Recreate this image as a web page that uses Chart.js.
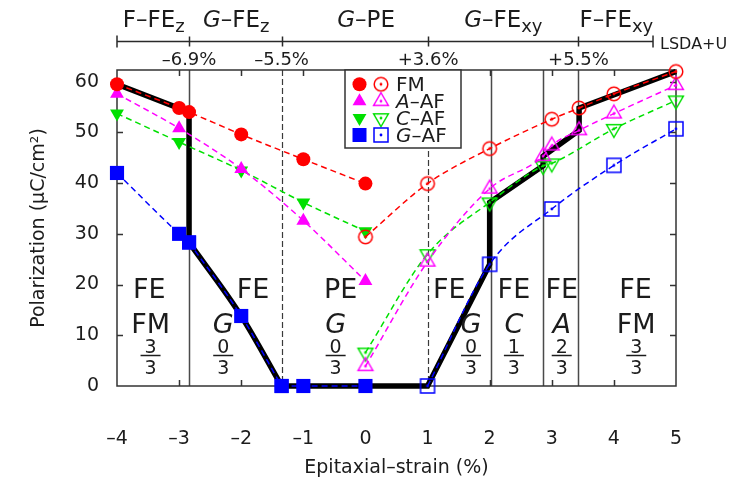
<!DOCTYPE html>
<html>
<head>
<meta charset="utf-8">
<script src="https://cdn.jsdelivr.net/npm/chart.js@4/dist/chart.umd.min.js"></script>
<style>
  html, body { margin: 0; padding: 0; background: #fff; }
  canvas { display: block; }
</style>
</head>
<body>
<canvas id="chart" width="732" height="485"></canvas>
<script>
// Polarization (µC/cm²) against epitaxial strain (%) for each magnetic order.
// Filled symbols: out-of-plane (z) polar states; open symbols: in-plane (xy).
const fmZStrain = [-4, -3, -2.84, -2, -1, 0];
const fmZPol    = [59.5, 54.8, 54.0, 49.6, 44.7, 39.9];
const aafZStrain = [-4, -3, -2, -1, 0];
const aafZPol    = [57.6, 50.8, 42.8, 32.6, 20.7];
const cafZStrain = [-4, -3, -2, -1, 0];
const cafZPol    = [53.7, 48.1, 42.5, 36.2, 30.5];
const gafZStrain = [-4, -3, -2.84];
const gafZPol    = [42.0, 30.0, 28.3];
const gafBendStrain = [-2.84, -2, -1.35];
const gafBendPol    = [28.3, 13.8, 0];
const gafFlatStrain = [-1.35, -1, 0];
const gafFlatPol    = [0, 0, 0];

const fmXyStrain = [0, 1, 2, 3, 3.44, 4, 5];
const fmXyPol    = [29.4, 39.9, 46.8, 52.6, 54.8, 57.6, 62.0];
const aafXyStrain = [0, 1, 2, 2.86, 3, 3.44, 4, 5];
const aafXyPol    = [3.9, 24.5, 38.9, 45.3, 47.4, 50.4, 53.7, 59.3];
const cafXyStrain = [0, 1, 2, 2.86, 3, 4, 5];
const cafXyPol    = [6.6, 26.0, 36.2, 43.4, 43.9, 50.7, 56.3];
const gafXyStrain = [1, 2, 3, 4, 5];
const gafXyPol    = [0, 24.0, 34.9, 43.5, 50.7];

// Ground-state path (thick black)
const groundUpperStrain = [-4, -2.84, -2.84];
const groundUpperPol    = [59.5, 54.0, 28.3];
const groundLowerStrain = [-1.35, 1, 2, 2, 2.86, 2.86, 3.44, 3.44, 5];
const groundLowerPol    = [0, 0, 24.0, 36.2, 43.4, 45.3, 50.4, 54.8, 62.0];

// Phase boundaries
const boundaryStrain = [-2.84, -1.35, 1.01, 2.02, 2.86, 3.43];
const boundaryDashed = [false, true, true, false, false, false];

// LSDA+U scale across the top
const lsdaTickStrain = [-2.84, -1.35, 1.01, 3.43];
const lsdaTickLabels = ['–6.9%', '–5.5%', '+3.6%', '+5.5%'];
const lsdaBarStart = -4;
const lsdaBarEnd = 4.63;
const lsdaPhaseNames = [
  [['F–FE'], ['z', 's']],
  [['G', 'i'], ['–FE'], ['z', 's']],
  [['G', 'i'], ['–PE']],
  [['G', 'i'], ['–FE'], ['xy', 's']],
  [['F–FE'], ['xy', 's']]
];
const lsdaPhaseCenter = [-3.41, -2.08, 0.01, 2.22, 4.04];

// Phase labels inside the plot
const phaseHead    = ['FE', 'FE', 'PE', 'FE', 'FE', 'FE', 'FE'];
const phaseOrder   = ['FM', 'G', 'G', 'G', 'C', 'A', 'FM'];
const phaseNum     = ['3', '0', '0', '0', '1', '2', '3'];
const phaseDen     = ['3', '3', '3', '3', '3', '3', '3'];
const phaseHeadAt  = [-3.48, -1.81, -0.40, 1.35, 2.39, 3.16, 4.35];
const phaseOrderAt = [-3.46, -2.29, -0.48, 1.70, 2.39, 3.16, 4.36];

const xTickValues = [-4, -3, -2, -1, 0, 1, 2, 3, 4, 5];
const yTickValues = [0, 10, 20, 30, 40, 50, 60];

const RED = '#ff0000', MAG = '#ff00ff', GRN = '#00e000', BLU = '#0000ff';
const INK = '#1c1c1c', FRAME = '#333333';
const FAM = '"DejaVu Sans"';

function pts(xs, ys) { return xs.map((x, i) => ({ x: x, y: ys[i] })); }

function fontStr(size, italic) { return (italic ? 'oblique ' : '') + size + 'px ' + FAM; }

// open symbol with a centre dot
function openMarker(shape, color) {
  const s = 24, m = s / 2;
  const c = document.createElement('canvas');
  c.width = s; c.height = s;
  const g = c.getContext('2d');
  g.strokeStyle = color; g.lineWidth = 1.5;
  g.beginPath();
  if (shape === 'circle') {
    g.arc(m, m, 6.8, 0, Math.PI * 2);
  } else if (shape === 'rect') {
    g.rect(m - 7, m - 7, 14, 14);
  } else {
    const r = 8.5, d = shape === 'up' ? -1 : 1;
    g.moveTo(m, m + d * r);
    g.lineTo(m + r * 0.866, m - d * r / 2);
    g.lineTo(m - r * 0.866, m - d * r / 2);
    g.closePath();
  }
  g.stroke();
  g.fillStyle = color;
  g.beginPath(); g.arc(m, m, 1.4, 0, Math.PI * 2); g.fill();
  return c;
}

const openFM = openMarker('circle', RED);
const openA = openMarker('up', MAG);
const openC = openMarker('down', GRN);
const openG = openMarker('rect', BLU);

function dashedSet(data, color, point) {
  return Object.assign({
    data: data,
    borderColor: color,
    borderWidth: 1.5,
    borderDash: [6, 4],
    cubicInterpolationMode: 'monotone',
    pointBackgroundColor: color,
    pointBorderColor: color,
    pointBorderWidth: 0,
    fill: false,
    clip: false
  }, point);
}

function groundSet(data, curved) {
  return {
    data: data,
    borderColor: '#000',
    borderWidth: 5.5,
    pointRadius: 0,
    tension: 0,
    cubicInterpolationMode: curved ? 'monotone' : 'default',
    fill: false,
    clip: false
  };
}

const datasets = [
  dashedSet(pts(fmZStrain, fmZPol), RED, { pointStyle: 'circle', pointRadius: 7 }),
  dashedSet(pts(fmXyStrain, fmXyPol), RED, { pointStyle: openFM, pointRadius: 8 }),
  dashedSet(pts(aafZStrain, aafZPol), MAG, { pointStyle: 'triangle', pointRadius: 8 }),
  dashedSet(pts(aafXyStrain, aafXyPol), MAG, { pointStyle: openA, pointRadius: 8 }),
  dashedSet(pts(cafZStrain, cafZPol), GRN, { pointStyle: 'triangle', pointRotation: 180, pointRadius: 8 }),
  dashedSet(pts(cafXyStrain, cafXyPol), GRN, { pointStyle: openC, pointRadius: 8 }),
  dashedSet(pts(gafZStrain, gafZPol), BLU, { pointStyle: 'rect', pointRadius: 10 }),
  dashedSet(pts(gafBendStrain, gafBendPol), BLU, { pointStyle: 'rect', pointRadius: 10 }),
  dashedSet(pts(gafFlatStrain, gafFlatPol), BLU, { pointStyle: 'rect', pointRadius: 10 }),
  dashedSet(pts(gafXyStrain, gafXyPol), BLU, { pointStyle: openG, pointRadius: 8 }),
  groundSet(pts(groundUpperStrain, groundUpperPol), false),
  groundSet(pts(gafBendStrain, gafBendPol), true),
  groundSet(pts(groundLowerStrain, groundLowerPol), false)
];

function drawParts(ctx, parts, x, baseline, size, align) {
  const sub = Math.round(size * 0.78);
  const fontOf = p => fontStr((p[1] || '').includes('s') ? sub : size, (p[1] || '').includes('i'));
  let w = 0;
  parts.forEach(p => { ctx.font = fontOf(p); w += ctx.measureText(p[0]).width; });
  let cx = align === 'center' ? x - w / 2 : x;
  ctx.textAlign = 'left';
  ctx.textBaseline = 'alphabetic';
  parts.forEach(p => {
    ctx.font = fontOf(p);
    const dy = (p[1] || '').includes('s') ? size * 0.22 : 0;
    ctx.fillText(p[0], cx, baseline + dy);
    cx += ctx.measureText(p[0]).width;
  });
}

function filledMarker(ctx, shape, x, y, color) {
  ctx.save();
  ctx.fillStyle = color;
  ctx.beginPath();
  if (shape === 'circle') {
    ctx.arc(x, y, 7, 0, Math.PI * 2);
  } else if (shape === 'rect') {
    ctx.rect(x - 7, y - 7, 14, 14);
  } else {
    const r = 8, d = shape === 'up' ? -1 : 1;
    ctx.moveTo(x, y + d * r);
    ctx.lineTo(x + r * 0.866, y - d * r / 2);
    ctx.lineTo(x - r * 0.866, y - d * r / 2);
    ctx.closePath();
  }
  ctx.fill();
  ctx.restore();
}

const legendRows = [
  { shape: 'circle', color: RED, open: openFM, parts: [['FM']] },
  { shape: 'up', color: MAG, open: openA, parts: [['A', 'i'], ['–AF']] },
  { shape: 'down', color: GRN, open: openC, parts: [['C', 'i'], ['–AF']] },
  { shape: 'rect', color: BLU, open: openG, parts: [['G', 'i'], ['–AF']] }
];

const decor = {
  id: 'decor',
  beforeDatasetsDraw(chart) {
    const { ctx, chartArea: a, scales: { x, y } } = chart;
    ctx.save();
    // phase boundaries
    boundaryStrain.forEach((s, i) => {
      const px = Math.round(x.getPixelForValue(s)) + 0.5;
      ctx.beginPath();
      ctx.strokeStyle = boundaryDashed[i] ? '#3a3a3a' : '#4a4a4a';
      ctx.lineWidth = boundaryDashed[i] ? 1.2 : 1.5;
      ctx.setLineDash(boundaryDashed[i] ? [6, 3] : []);
      ctx.moveTo(px, a.top);
      ctx.lineTo(px, a.bottom);
      ctx.stroke();
    });
    ctx.setLineDash([]);
    // frame
    ctx.strokeStyle = FRAME;
    ctx.lineWidth = 1.5;
    ctx.strokeRect(a.left, a.top, a.right - a.left, a.bottom - a.top);
    // inward ticks
    ctx.beginPath();
    xTickValues.slice(1, -1).forEach(v => {
      const px = Math.round(x.getPixelForValue(v)) + 0.5;
      ctx.moveTo(px, a.bottom); ctx.lineTo(px, a.bottom - 6);
      ctx.moveTo(px, a.top); ctx.lineTo(px, a.top + 6);
    });
    yTickValues.slice(1).forEach(v => {
      const py = Math.round(y.getPixelForValue(v)) + 0.5;
      ctx.moveTo(a.left, py); ctx.lineTo(a.left + 6, py);
      ctx.moveTo(a.right, py); ctx.lineTo(a.right - 6, py);
    });
    ctx.stroke();
    ctx.restore();
  },
  afterDatasetsDraw(chart) {
    const { ctx, chartArea: a, scales: { x } } = chart;
    ctx.save();
    ctx.fillStyle = INK;
    ctx.strokeStyle = INK;
    // phase labels
    phaseHead.forEach((h, i) => {
      const hx = x.getPixelForValue(phaseHeadAt[i]);
      const ox = x.getPixelForValue(phaseOrderAt[i]);
      ctx.textAlign = 'center';
      ctx.textBaseline = 'alphabetic';
      ctx.font = fontStr(27, false);
      ctx.fillText(h, hx, a.bottom - 88);
      ctx.font = fontStr(27, phaseOrder[i] !== 'FM');
      ctx.fillText(phaseOrder[i], ox, a.bottom - 53);
      ctx.font = fontStr(19, false);
      ctx.fillText(phaseNum[i], ox, a.bottom - 33);
      ctx.fillText(phaseDen[i], ox, a.bottom - 12.5);
      ctx.lineWidth = 1.5;
      ctx.beginPath();
      ctx.moveTo(ox - 10, a.bottom - 30.5);
      ctx.lineTo(ox + 10, a.bottom - 30.5);
      ctx.stroke();
    });
    // key
    const bx = 345, by = a.top, bw = 116, bh = 78;
    ctx.fillStyle = '#fff';
    ctx.fillRect(bx, by, bw, bh);
    ctx.strokeStyle = FRAME;
    ctx.lineWidth = 1.5;
    ctx.strokeRect(bx, by, bw, bh);
    legendRows.forEach((r, i) => {
      const base = 91 + i * 16.9;
      const my = base - 6.7;
      filledMarker(ctx, r.shape, 359.5, my, r.color);
      ctx.drawImage(r.open, 381 - r.open.width / 2, my - r.open.height / 2);
      ctx.fillStyle = INK;
      drawParts(ctx, r.parts, 396, base, 20, 'left');
    });
    ctx.restore();
  },
  afterDraw(chart) {
    const { ctx, scales: { x } } = chart;
    ctx.save();
    ctx.strokeStyle = '#2a2a2a';
    ctx.fillStyle = INK;
    ctx.lineWidth = 1.5;
    const barY = 41.5;
    const x0 = x.getPixelForValue(lsdaBarStart), x1 = x.getPixelForValue(lsdaBarEnd);
    ctx.beginPath();
    ctx.moveTo(x0, barY); ctx.lineTo(x1, barY);
    [x0, x1].forEach(px => { ctx.moveTo(px, barY - 6); ctx.lineTo(px, barY + 6); });
    lsdaTickStrain.forEach(s => {
      const px = Math.round(x.getPixelForValue(s)) + 0.5;
      ctx.moveTo(px, barY - 5); ctx.lineTo(px, barY + 5);
    });
    ctx.stroke();
    ctx.textAlign = 'center';
    ctx.textBaseline = 'alphabetic';
    ctx.font = fontStr(18, false);
    lsdaTickStrain.forEach((s, i) => {
      ctx.fillText(lsdaTickLabels[i], x.getPixelForValue(s), 65);
    });
    ctx.textAlign = 'left';
    ctx.font = fontStr(16, false);
    ctx.fillText('LSDA+U', x1 + 7, 49);
    lsdaPhaseNames.forEach((parts, i) => {
      drawParts(ctx, parts, x.getPixelForValue(lsdaPhaseCenter[i]), 27, 23, 'center');
    });
    ctx.restore();
  }
};

new Chart(document.getElementById('chart'), {
  type: 'line',
  data: { datasets: datasets },
  plugins: [decor],
  options: {
    responsive: false,
    animation: false,
    events: [],
    layout: { padding: { left: 0, right: 56, top: 70, bottom: 0 } },
    plugins: { legend: { display: false }, tooltip: { enabled: false } },
    scales: {
      x: {
        type: 'linear',
        min: -4,
        max: 5,
        afterBuildTicks: s => { s.ticks = xTickValues.map(v => ({ value: v })); },
        ticks: {
          font: { family: 'DejaVu Sans', size: 19 },
          color: INK,
          padding: 42,
          maxRotation: 0,
          autoSkip: false,
          callback: v => (v < 0 ? '–' + Math.abs(v) : String(v))
        },
        grid: { display: false, drawTicks: false },
        border: { display: false },
        title: {
          display: true,
          text: 'Epitaxial–strain (%)',
          font: { family: 'DejaVu Sans', size: 19 },
          color: INK,
          padding: { top: 0, bottom: 6 }
        },
        afterFit: s => { s.height = 99; }
      },
      y: {
        min: 0,
        max: 62.3,
        afterBuildTicks: s => { s.ticks = yTickValues.map(v => ({ value: v })); },
        ticks: {
          font: { family: 'DejaVu Sans', size: 19 },
          color: INK,
          padding: 18
        },
        grid: { display: false, drawTicks: false },
        border: { display: false },
        title: {
          display: true,
          text: 'Polarization (μC/cm²)',
          font: { family: 'DejaVu Sans', size: 19 },
          color: INK,
          padding: { top: 28, bottom: 0 }
        },
        afterFit: s => { s.width = 117; }
      }
    }
  }
});
</script>
</body>
</html>
